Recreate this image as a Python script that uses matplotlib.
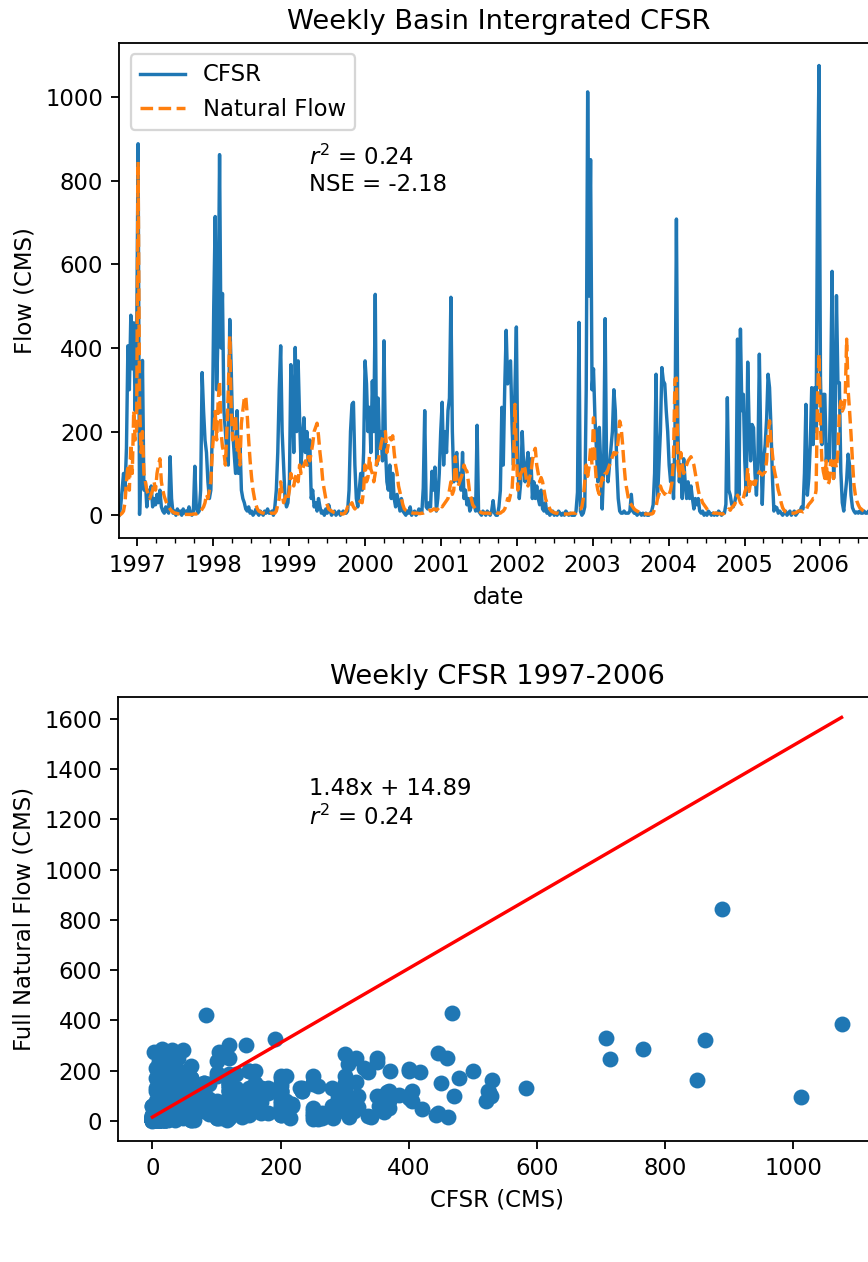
import numpy as np
import pandas as pd
import matplotlib
matplotlib.use("Agg")
import matplotlib.pyplot as plt
import matplotlib.dates as mdates

DPI = 163.5

# weekly basin integrated flow (CMS), one list per water year (Oct - Sep)
cfsr_wy1997 = [0, 20, 60, 100, 60, 160, 405, 300, 478, 350, 460, 250, 400, 888, 2, 120, 370, 60, 80, 20,
               60, 40, 70, 20, 40, 25, 50, 30, 60, 20, 10, 5, 20, 10, 5, 140, 40, 5, 10, 0,
               15, 5, 10, 0, 15, 5, 10, 5, 20, 5, 0, 10]
cfsr_wy1998 = [117, 20, 5, 10, 60, 341, 250, 180, 150, 80, 40, 60, 200, 500, 714, 300, 446, 862, 400, 530,
               250, 200, 150, 120, 468, 350, 200, 150, 100, 250, 100, 180, 60, 40, 30, 15, 10, 20, 5, 10,
               0, 5, 15, 5, 0, 10, 5, 0, 10, 5, 15, 5]
cfsr_wy1999 = [5, 10, 0, 20, 60, 150, 300, 405, 200, 120, 40, 20, 30, 80, 360, 290, 150, 401, 200, 369,
               233, 120, 180, 233, 150, 200, 120, 180, 40, 60, 20, 30, 10, 40, 20, 5, 10, 0, 15, 5,
               25, 10, 0, 5, 10, 0, 5, 10, 0, 5, 10, 5]
cfsr_wy2000 = [5, 10, 60, 200, 265, 270, 120, 40, 20, 60, 100, 60, 150, 369, 314, 200, 258, 150, 321, 200,
               528, 120, 280, 160, 200, 130, 417, 160, 80, 60, 120, 40, 100, 40, 20, 50, 30, 10, 40, 10,
               5, 0, 10, 5, 20, 0, 5, 10, 0, 5, 15, 5]
cfsr_wy2001 = [5, 65, 250, 20, 15, 30, 20, 105, 60, 115, 10, 40, 100, 200, 270, 120, 200, 150, 250, 280,
               521, 200, 80, 120, 150, 80, 100, 60, 150, 40, 60, 25, 40, 10, 20, 40, 30, 10, 215, 10,
               5, 0, 10, 5, 0, 10, 5, 0, 10, 35, 5, 0]
cfsr_wy2002 = [0, 20, 60, 258, 120, 306, 442, 314, 362, 369, 218, 120, 300, 450, 120, 40, 80, 200, 120, 80,
               120, 150, 80, 135, 40, 80, 40, 70, 40, 25, 60, 15, 10, 30, 5, 10, 0, 5, 10, 0,
               5, 0, 10, 5, 0, 5, 0, 10, 5, 0, 5, 0]
cfsr_wy2003 = [0, 0, 10, 55, 461, 10, 0, 5, 20, 300, 1012, 524, 850, 300, 350, 233, 160, 80, 210, 120,
               15, 120, 470, 120, 80, 120, 160, 200, 300, 250, 120, 40, 10, 5, 5, 10, 5, 5, 5, 10,
               50, 10, 5, 5, 0, 5, 5, 0, 5, 0, 5, 0]
cfsr_wy2004 = [0, 5, 10, 25, 100, 337, 40, 120, 200, 353, 321, 314, 250, 200, 120, 80, 120, 40, 192, 708,
               200, 80, 120, 40, 135, 80, 40, 80, 40, 70, 40, 15, 40, 25, 40, 10, 5, 10, 0, 5,
               0, 10, 5, 0, 5, 0, 5, 0, 10, 5, 0, 5]
cfsr_wy2005 = [5, 26, 281, 60, 48, 26, 20, 30, 48, 421, 48, 445, 250, 289, 130, 48, 366, 209, 130, 217,
               209, 100, 48, 130, 385, 169, 26, 130, 169, 230, 337, 305, 209, 88, 10, 20, 18, 5, 10, 5,
               0, 5, 10, 0, 5, 10, 0, 5, 10, 0, 5, 10]
cfsr_wy2006 = [10, 20, 15, 100, 265, 48, 88, 169, 305, 169, 305, 200, 765, 1075, 330, 169, 289, 289, 130, 169,
               130, 300, 583, 88, 169, 525, 317, 317, 104, 30, 10, 48, 84, 146, 120, 48, 18, 10, 5, 8,
               5, 10, 5, 5, 10, 5, 5, 10, 5, 5, 5, 5, 8, 5]

natural_wy1997 = [0, 2, 5, 10, 30, 80, 120, 60, 170, 100, 250, 180, 206, 845, 272, 150, 200, 100, 80, 60,
                  50, 40, 50, 60, 80, 60, 100, 120, 135, 80, 60, 45, 35, 25, 20, 15, 10, 8, 5, 5,
                  4, 3, 3, 2, 2, 2, 2, 2, 2, 2, 2, 3]
natural_wy1998 = [3, 3, 5, 5, 8, 15, 20, 30, 50, 40, 60, 80, 150, 200, 248, 180, 270, 321, 200, 163,
                  150, 120, 200, 300, 428, 250, 180, 200, 240, 150, 180, 120, 220, 250, 280, 285, 240, 180, 130, 90,
                  60, 40, 25, 15, 10, 8, 6, 5, 5, 4, 3, 3]
natural_wy1999 = [5, 5, 5, 5, 10, 25, 40, 80, 50, 30, 40, 50, 40, 60, 100, 80, 70, 90, 100, 80,
                  120, 100, 110, 120, 130, 120, 140, 130, 150, 170, 200, 210, 220, 190, 150, 120, 80, 60, 40, 25,
                  15, 12, 10, 8, 6, 5, 5, 4, 4, 3, 3, 5]
natural_wy2000 = [10, 20, 15, 25, 30, 20, 15, 20, 25, 30, 35, 30, 60, 120, 80, 90, 140, 110, 100, 80,
                  100, 130, 130, 150, 170, 185, 195, 200, 150, 170, 185, 180, 190, 150, 120, 100, 70, 55, 40, 25,
                  15, 12, 10, 8, 7, 6, 5, 5, 5, 5, 4, 4]
natural_wy2001 = [5, 5, 8, 10, 10, 12, 10, 12, 15, 15, 12, 15, 20, 25, 20, 25, 30, 35, 40, 60,
                  80, 50, 60, 140, 90, 70, 80, 90, 100, 120, 110, 105, 80, 50, 40, 25, 20, 15, 12, 10,
                  8, 6, 5, 5, 5, 5, 5, 4, 4, 5, 6, 8]
natural_wy2002 = [5, 5, 5, 8, 10, 15, 25, 40, 35, 50, 60, 120, 265, 150, 60, 80, 100, 105, 120, 110,
                  80, 70, 90, 100, 130, 150, 160, 120, 100, 80, 90, 80, 60, 40, 30, 25, 15, 10, 8, 6,
                  5, 5, 5, 4, 4, 3, 3, 3, 3, 3, 4, 5]
natural_wy2003 = [5, 5, 5, 10, 15, 15, 20, 40, 80, 120, 93, 117, 162, 120, 233, 130, 80, 60, 50, 70,
                  90, 85, 100, 100, 110, 120, 130, 140, 150, 145, 150, 180, 225, 210, 170, 120, 80, 60, 40, 30,
                  25, 20, 15, 12, 10, 8, 6, 5, 5, 4, 3, 3]
natural_wy2004 = [3, 3, 3, 5, 15, 20, 40, 50, 70, 60, 55, 50, 50, 45, 50, 60, 80, 140, 325, 328,
                  120, 90, 150, 120, 100, 110, 120, 130, 135, 140, 130, 120, 100, 80, 60, 45, 40, 30, 25, 20,
                  15, 12, 10, 8, 6, 5, 5, 5, 4, 4, 3, 3]
natural_wy2005 = [5, 8, 10, 15, 12, 18, 22, 26, 35, 48, 40, 30, 26, 40, 55, 66, 113, 57, 80, 66,
                  80, 73, 88, 96, 104, 100, 96, 100, 104, 130, 194, 226, 178, 146, 113, 95, 80, 60, 48, 30,
                  18, 12, 8, 6, 5, 5, 5, 5, 5, 6, 8, 10]
natural_wy2006 = [10, 10, 8, 10, 10, 20, 26, 30, 34, 40, 40, 60, 285, 385, 209, 130, 104, 88, 130, 73,
                  80, 130, 130, 88, 130, 113, 153, 249, 273, 249, 257, 280, 421, 300, 250, 194, 130, 73, 48, 34,
                  25, 18, 15, 12, 10, 10, 8, 8, 8, 8, 8, 8, 8, 8]

start_date = "1996-10-06"
slope, intercept = 1.48, 14.89
r2, nse = 0.24, -2.18

cfsr = np.array(cfsr_wy1997 + cfsr_wy1998 + cfsr_wy1999 + cfsr_wy2000 + cfsr_wy2001
                + cfsr_wy2002 + cfsr_wy2003 + cfsr_wy2004 + cfsr_wy2005 + cfsr_wy2006, dtype=float)
natural = np.array(natural_wy1997 + natural_wy1998 + natural_wy1999 + natural_wy2000 + natural_wy2001
                   + natural_wy2002 + natural_wy2003 + natural_wy2004 + natural_wy2005 + natural_wy2006, dtype=float)
dates = pd.date_range(start_date, periods=len(cfsr), freq="W")

fig = plt.figure(figsize=(868 / DPI, 1262 / DPI), dpi=DPI)

# time series (axes run past the right edge, as in the cropped original)
ax1 = fig.add_axes([0.1373, 0.5739, 0.8733, 0.3920])
ax1.plot(dates, cfsr, label="CFSR")
ax1.plot(dates, natural, "--", label="Natural Flow")
ax1.set_xlim(dates[0], dates[-1])
ax1.xaxis.set_major_locator(mdates.YearLocator())
ax1.xaxis.set_major_formatter(mdates.DateFormatter("%Y"))
ax1.xaxis.set_minor_locator(mdates.MonthLocator(bymonth=[1, 4, 7, 10]))
ax1.set_xlabel("date")
ax1.set_ylabel("Flow (CMS)")
ax1.set_title("Weekly Basin Intergrated CFSR")
ax1.legend(loc="upper left")
ax1.text(0.25, 0.70, f"$r^2$ = {r2:.2f}\nNSE = {nse:.2f}", transform=ax1.transAxes)

# scatter with regression line
ax2 = fig.add_axes([0.1359, 0.0959, 0.8733, 0.3516])
ax2.scatter(cfsr, natural)
xfit = np.array([0, cfsr.max()])
ax2.plot(xfit, slope * xfit + intercept, color="red")
ax2.set_xlabel("CFSR (CMS)")
ax2.set_ylabel("Full Natural Flow (CMS)")
ax2.set_title("Weekly CFSR 1997-2006")
ax2.text(0.252, 0.713, f"{slope:.2f}x + {intercept:.2f}\n$r^2$ = {r2:.2f}", transform=ax2.transAxes)

fig.savefig("out.png", dpi=DPI)
